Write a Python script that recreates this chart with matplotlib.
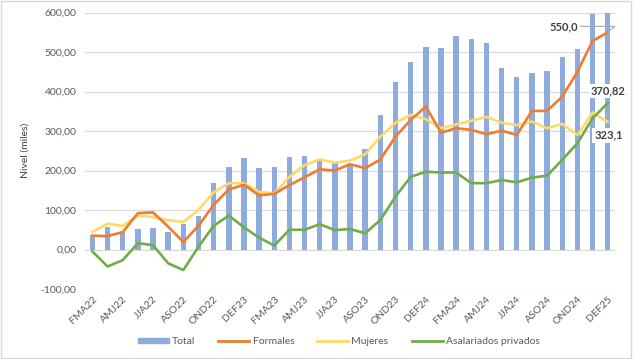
import matplotlib
matplotlib.use("Agg")
import matplotlib.pyplot as plt
import numpy as np
from matplotlib.ticker import FuncFormatter
from matplotlib.patches import Patch
from matplotlib.lines import Line2D

plt.rcParams['font.family'] = ['Lato', 'DejaVu Sans']

categories = ["FMA22", "MAM22", "AMJ22", "MJJ22", "JJA22", "JAS22", "ASO22", "SON22",
              "OND22", "NDE22", "DEF23", "EFM23", "FMA23", "MAM23", "AMJ23", "MJJ23",
              "JJA23", "JAS23", "ASO23", "SON23", "OND23", "NDE23", "DEF24", "EFM24",
              "FMA24", "MAM24", "AMJ24", "MJJ24", "JJA24", "JAS24", "ASO24", "SON24",
              "OND24", "NDE24", "DEF25"]

total = [36, 56, 45, 51, 55, 45, 65, 85, 168, 210, 231, 207, 209, 235, 237, 230,
         221, 215, 254, 341, 425, 476, 512, 510, 541, 534, 523, 459, 438, 446, 451,
         488, 508, 596, 600]

formales = [35, 34, 44, 92, 94, 58, 19, 60, 113, 152, 164, 137, 141, 163, 183, 203,
            200, 216, 206, 228, 286, 328, 362, 296, 307, 303, 292, 301, 290, 351, 351,
            387, 450, 528, 550.0]

mujeres = [45, 65, 60, 86, 82, 74, 70, 100, 145, 168, 168, 146, 142, 184, 214, 228,
           220, 225, 241, 286, 321, 341, 330, 307, 317, 326, 336, 321, 315, 324, 307,
           318, 290, 347, 323.1]

asalariados = [-5, -43, -27, 16, 11, -35, -52, 7, 60, 86, 56, 30, 10, 50, 50, 64,
               49, 52, 41, 75, 134, 184, 197, 195, 195, 168, 168, 176, 170, 182, 187,
               227, 269, 332, 370.82]

x = np.arange(len(categories))

fig = plt.figure(figsize=(6.33, 3.59), dpi=100)
fig.patch.set_facecolor('white')
ax = fig.add_axes([0.134, 0.195, 0.838, 0.770])

ax.bar(x, total, width=0.36, color='#8FAADC', zorder=2)
ax.plot(x, formales, color='#ED7D31', lw=1.9, zorder=4, solid_joinstyle='round')
ax.plot(x, mujeres, color='#FFD966', lw=1.9, zorder=3, solid_joinstyle='round')
ax.plot(x, asalariados, color='#70AD47', lw=1.9, zorder=4, solid_joinstyle='round')

ax.set_ylim(-100, 600)
ax.set_xlim(-0.5, len(categories) - 0.5)
ax.set_yticks(np.arange(-100, 601, 100))
ax.yaxis.set_major_formatter(FuncFormatter(lambda v, p: f"{v:.2f}".replace('.', ',')))
ax.grid(axis='y', color='#D9D9D9', lw=0.8, zorder=0)
ax.set_axisbelow(True)
for s in ax.spines.values():
    s.set_visible(False)
ax.tick_params(axis='both', length=0, colors='#595959', labelsize=7.5)
ax.tick_params(axis='y', pad=6)
ax.set_xticks(x[::2])
ax.set_xticklabels(categories[::2], rotation=45, ha='right', rotation_mode='anchor')
ax.tick_params(axis='x', pad=4)
ax.set_ylabel("Nivel (miles)", fontsize=7.5, color='#404040', labelpad=8)

lab_kw = dict(fontsize=8, fontweight='bold', color='#404040', zorder=6)
box = dict(boxstyle='square,pad=0.15', fc='white', ec='none')
n = len(categories) - 1
ax.annotate(f"{formales[-1]:.1f}".replace('.', ','), xy=(x[-1], formales[-1]),
            xytext=(x[-1] - 2.9, 565), ha='center', va='center', bbox=box,
            arrowprops=dict(arrowstyle='-', color='#A6A6A6', lw=0.8,
                            shrinkA=0, shrinkB=0, connectionstyle='angle,angleA=0,angleB=40,rad=0'),
            **lab_kw)
ax.text(x[-1] + 0.05, asalariados[-1] + 30, f"{asalariados[-1]:.2f}".replace('.', ','),
        ha='center', va='center', bbox=box, **lab_kw)
ax.text(x[-1] + 0.05, mujeres[-1] - 34, f"{mujeres[-1]:.1f}".replace('.', ','),
        ha='center', va='center', bbox=box, **lab_kw)

handles = [Patch(color='#8FAADC'),
           Line2D([], [], color='#ED7D31', lw=2),
           Line2D([], [], color='#FFD966', lw=2),
           Line2D([], [], color='#70AD47', lw=2)]
leg = fig.legend(handles, ["Total", "Formales", "Mujeres", "Asalariados privados"],
                 loc='center', bbox_to_anchor=(0.535, 0.048), ncol=4, frameon=False,
                 fontsize=7.5, handlelength=3.0, handleheight=0.4, columnspacing=2.2,
                 handletextpad=0.3)
for t in leg.get_texts():
    t.set_color('#595959')

fig.patches.append(plt.Rectangle((0.002, 0.003), 0.995, 0.993, transform=fig.transFigure,
                                 fill=False, ec='#D9D9D9', lw=1))

fig.savefig("out.png", dpi=100)
